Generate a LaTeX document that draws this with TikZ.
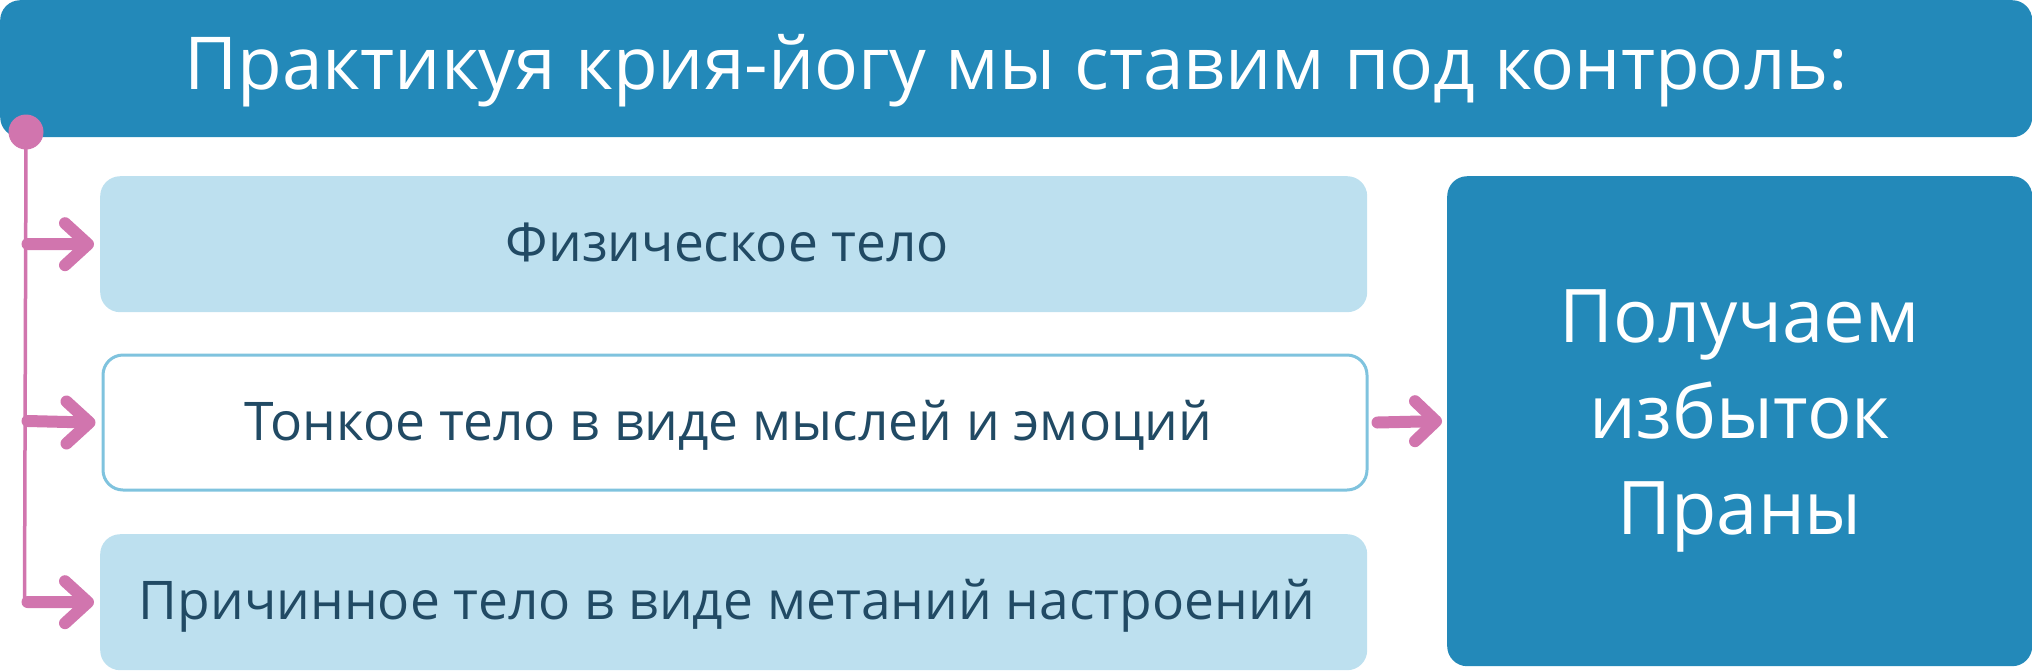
\documentclass[tikz,border=0pt]{standalone}
\usepackage{fontspec}
\setmainfont{Open Sans}
\definecolor{banblue}{HTML}{2389B9}
\definecolor{lightbox}{HTML}{BDE0EF}
\definecolor{boxline}{HTML}{7FC3DE}
\definecolor{pinkc}{HTML}{D175AE}
\definecolor{navy}{HTML}{214A64}
\begin{document}
\begin{tikzpicture}[x=1pt,y=-1pt,
  box/.style={rectangle, rounded corners=20pt, inner sep=0pt, anchor=north west,
    font=\fontsize{53.3}{60}\selectfont, text=navy, text height=41pt, text depth=6pt,
    execute at end node={\hspace*{13pt}}},
  filledbox/.style={box, fill=lightbox, minimum width=1267pt, minimum height=136pt},
  framedbox/.style={box, fill=white, draw=boxline, line width=3pt, minimum width=1264pt, minimum height=135pt},
  shaft/.style={draw=pinkc, line width=12pt, line cap=round},
  chev/.style={draw=pinkc, line width=12pt, line cap=round, line join=round},
  trunk/.style={draw=pinkc, line width=3.5pt}]
\useasboundingbox (0,0) rectangle (2032,670);
% banner
\node[rectangle, rounded corners=20pt, fill=banblue, inner sep=0pt, anchor=north west,
  minimum width=2032pt, minimum height=137pt, text=white,
  font=\fontsize{73}{80}\selectfont, text height=52pt, text depth=11pt]
  (banner) at (0,0) {Практикуя крия-йогу мы ставим под контроль:};
% boxes
\node[filledbox] (b1) at (100,176) {Физическое тело};
\node[framedbox] (b2) at (101.5,353.5) {Тонкое тело в виде мыслей и эмоций};
\node[filledbox] (b3) at (100,534) {Причинное тело в виде метаний настроений};
\node[rectangle, rounded corners=20pt, fill=banblue, inner sep=0pt, anchor=north west,
  minimum width=585pt, minimum height=490pt, text=white, align=center,
  font=\fontsize{74}{96}\selectfont] (res) at (1447,176) {Получаем\\избыток\\Праны};
% dot and trunk
\node[circle, fill=pinkc, minimum size=35pt, inner sep=0pt] (dot) at (26,132) {};
\coordinate (t1) at (24.5,244);
\coordinate (t2) at (24.5,421);
\coordinate (t3) at (24.5,602);
\draw[trunk] ([yshift=3pt]dot.south) -- (t3);
% arrows to boxes
\foreach \t/\b in {t1/b1, t2/b2, t3/b3}{
  \draw[shaft] ([xshift=3pt]\t) -- ([xshift=-14pt]\b.west);
  \draw[chev] ([xshift=-35pt,yshift=-21pt]\b.west) -- ([xshift=-12pt]\b.west) -- ([xshift=-35pt,yshift=21pt]\b.west);
}
% arrow to result
\draw[shaft] ([xshift=9pt]b2.east) -- ([xshift=-13pt]res.west);
\draw[chev] ([xshift=-32pt,yshift=-20pt]res.west) -- ([xshift=-11pt]res.west) -- ([xshift=-32pt,yshift=20pt]res.west);
\end{tikzpicture}
\end{document}
